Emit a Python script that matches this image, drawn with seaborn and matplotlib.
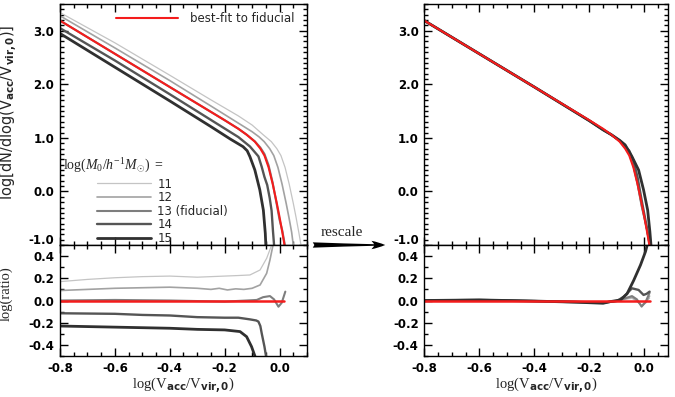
import matplotlib
matplotlib.use("Agg")
import matplotlib.pyplot as plt
import seaborn as sns
from matplotlib.ticker import MultipleLocator, FormatStrFormatter
from matplotlib.lines import Line2D
from matplotlib.patches import FancyArrowPatch
from matplotlib.transforms import ScaledTranslation

# ---------------- data ----------------
labels = ["11", "12", "13 (fiducial)", "14", "15"]

# left top: log dN/dlog(Vacc/Vvir,0) for each log M0
m11_x = [-0.8, -0.6, -0.4, -0.25, -0.15, -0.1, -0.06, -0.03, -0.01, 0.005, 0.02, 0.035, 0.05, 0.06, 0.07, 0.078, 0.082]
m11_y = [3.34, 2.775, 2.17, 1.71, 1.41, 1.24, 1.06, 0.93, 0.80, 0.67, 0.45, 0.14, -0.22, -0.48, -0.76, -1.0, -1.12]
m12_x = [-0.8, -0.6, -0.4, -0.25, -0.15, -0.1, -0.075, -0.056, -0.036, -0.021, -0.006, 0.009, 0.024, 0.034, 0.044, 0.050, 0.053]
m12_y = [3.28, 2.68, 2.07, 1.595, 1.275, 1.115, 1.02, 0.93, 0.80, 0.67, 0.45, 0.14, -0.22, -0.48, -0.76, -1.0, -1.12]
m13_x = [-0.8, -0.6, -0.4, -0.3, -0.2, -0.15, -0.12, -0.09, -0.07, -0.055, -0.04, -0.025, -0.01, 0.0, 0.01, 0.018, 0.021]
m13_y = [3.19, 2.57, 1.95, 1.64, 1.33, 1.17, 1.06, 0.935, 0.82, 0.70, 0.49, 0.16, -0.25, -0.53, -0.73, -0.96, -1.12]
m14_x = [-0.8, -0.6, -0.4, -0.25, -0.15, -0.108, -0.077, -0.065, -0.055, -0.045, -0.036, -0.029, -0.024, -0.020, -0.018]
m14_y = [3.05, 2.445, 1.815, 1.335, 1.015, 0.84, 0.655, 0.46, 0.27, 0.12, -0.12, -0.36, -0.74, -1.0, -1.12]
m15_x = [-0.8, -0.6, -0.4, -0.25, -0.18, -0.133, -0.118, -0.108, -0.09, -0.072, -0.059, -0.052, -0.050, -0.049]
m15_y = [2.95, 2.32, 1.69, 1.21, 0.98, 0.836, 0.76, 0.65, 0.40, 0.03, -0.35, -0.78, -1.0, -1.12]

# best-fit to fiducial (red)
fit_x = [-0.8, -0.6, -0.4, -0.3, -0.2, -0.15, -0.12, -0.09, -0.07, -0.055, -0.04, -0.025, -0.01, 0.0, 0.01, 0.018, 0.020]
fit_y = [3.19, 2.57, 1.95, 1.64, 1.33, 1.17, 1.06, 0.93, 0.80, 0.67, 0.45, 0.14, -0.22, -0.48, -0.76, -1.0, -1.12]

# left bottom: log(ratio) to fiducial
r11_x = [-0.8, -0.7, -0.6, -0.5, -0.4, -0.3, -0.2, -0.15, -0.108, -0.071, -0.047, -0.031, -0.02]
r11_y = [0.17, 0.19, 0.205, 0.215, 0.22, 0.21, 0.22, 0.225, 0.23, 0.275, 0.38, 0.485, 0.56]
r12_x = [-0.8, -0.7, -0.6, -0.5, -0.4, -0.3, -0.25, -0.22, -0.19, -0.16, -0.13, -0.1, -0.071, -0.047, -0.035, -0.025, -0.018]
r12_y = [0.09, 0.10, 0.11, 0.115, 0.12, 0.11, 0.10, 0.11, 0.095, 0.105, 0.10, 0.11, 0.14, 0.245, 0.365, 0.485, 0.56]
r13_x = [-0.8, -0.6, -0.4, -0.3, -0.2, -0.12, -0.083, -0.06, -0.035, -0.02, -0.004, 0.008, 0.021]
r13_y = [0.0, 0.005, 0.0, -0.005, -0.01, 0.0, 0.005, 0.03, 0.04, 0.01, -0.056, -0.02, 0.08]
r14_x = [-0.8, -0.6, -0.5, -0.4, -0.3, -0.2, -0.15, -0.108, -0.085, -0.077, -0.07, -0.065, -0.055, -0.049, -0.045]
r14_y = [-0.115, -0.12, -0.13, -0.135, -0.15, -0.155, -0.155, -0.17, -0.18, -0.19, -0.23, -0.296, -0.416, -0.506, -0.56]
r15_x = [-0.8, -0.7, -0.6, -0.5, -0.4, -0.3, -0.2, -0.144, -0.12, -0.102, -0.089, -0.085]
r15_y = [-0.23, -0.235, -0.24, -0.245, -0.25, -0.26, -0.265, -0.28, -0.326, -0.416, -0.506, -0.56]
fitr_x = [-0.8, 0.018]
fitr_y = [0.0, 0.0]

# right top: rescaled functions
s11_x = [-0.8, -0.6, -0.4, -0.2, -0.15, -0.12, -0.09, -0.07, -0.055, -0.04, -0.025, -0.01, 0.0, 0.01, 0.019, 0.021]
s11_y = [3.19, 2.57, 1.95, 1.32, 1.15, 1.055, 0.935, 0.815, 0.69, 0.47, 0.13, -0.27, -0.49, -0.75, -1.0, -1.12]
s12_x = [-0.8, -0.6, -0.4, -0.2, -0.15, -0.12, -0.09, -0.07, -0.055, -0.04, -0.025, -0.01, 0.0, 0.01, 0.019, 0.021]
s12_y = [3.19, 2.57, 1.95, 1.32, 1.15, 1.055, 0.94, 0.82, 0.70, 0.48, 0.14, -0.27, -0.50, -0.74, -1.0, -1.12]
s13_x = [-0.8, -0.6, -0.4, -0.2, -0.15, -0.12, -0.09, -0.07, -0.055, -0.04, -0.025, -0.01, 0.0, 0.01, 0.019, 0.021]
s13_y = [3.19, 2.57, 1.95, 1.32, 1.15, 1.058, 0.945, 0.825, 0.71, 0.49, 0.15, -0.27, -0.49, -0.72, -1.0, -1.12]
s14_x = [-0.8, -0.6, -0.4, -0.2, -0.15, -0.12, -0.09, -0.07, -0.055, -0.04, -0.025, -0.01, 0.0, 0.01, 0.02, 0.022]
s14_y = [3.19, 2.57, 1.95, 1.32, 1.15, 1.058, 0.95, 0.85, 0.76, 0.58, 0.27, -0.16, -0.43, -0.70, -1.0, -1.12]
s15_x = [-0.8, -0.6, -0.4, -0.2, -0.15, -0.12, -0.09, -0.07, -0.045, -0.021, -0.003, 0.012, 0.02, 0.024, 0.025]
s15_y = [3.19, 2.57, 1.95, 1.32, 1.15, 1.06, 0.955, 0.87, 0.65, 0.40, 0.03, -0.35, -0.75, -1.0, -1.12]

# right bottom: log(ratio) after rescaling
q11_x = [-0.8, -0.6, -0.4, -0.25, -0.15, -0.1, -0.07, -0.045, -0.027, -0.01, 0.005, 0.019]
q11_y = [-0.005, 0.0, -0.005, -0.01, -0.015, -0.005, 0.01, 0.02, -0.01, -0.045, -0.01, 0.02]
q12_x = [-0.8, -0.6, -0.4, -0.25, -0.15, -0.1, -0.07, -0.045, -0.027, -0.01, 0.005, 0.019]
q12_y = [0.0, 0.005, -0.005, -0.012, -0.02, -0.005, 0.015, 0.03, 0.0, -0.05, -0.02, 0.04]
q13_x = [-0.8, -0.6, -0.4, -0.25, -0.15, -0.1, -0.07, -0.045, -0.027, -0.01, 0.005, 0.019]
q13_y = [0.0, 0.003, -0.005, -0.01, -0.02, -0.002, 0.02, 0.04, 0.01, -0.055, -0.01, 0.07]
q14_x = [-0.8, -0.6, -0.4, -0.25, -0.15, -0.1, -0.075, -0.045, -0.021, -0.003, 0.008, 0.019]
q14_y = [0.0, 0.005, -0.005, -0.015, -0.02, -0.005, 0.034, 0.11, 0.095, 0.05, 0.06, 0.08]
q15_x = [-0.8, -0.6, -0.4, -0.25, -0.15, -0.124, -0.087, -0.063, -0.039, -0.014, 0.004, 0.012, 0.014]
q15_y = [0.0, 0.005, -0.005, -0.015, -0.025, -0.01, 0.005, 0.06, 0.18, 0.32, 0.44, 0.515, 0.56]
fitq_x = [-0.8, 0.019]
fitq_y = [0.0, 0.0]

# ---------------- styling ----------------
sns.set_style("ticks")
plt.rcParams["font.family"] = ["DejaVu Sans"]
plt.rcParams["mathtext.fontset"] = "custom"
plt.rcParams["mathtext.rm"] = "Liberation Serif"
plt.rcParams["mathtext.it"] = "Liberation Serif:italic"
plt.rcParams["mathtext.sf"] = "DejaVu Sans:bold"
plt.rcParams["axes.linewidth"] = 1.0

grey_cols = ["#c4c4c4", "#a2a2a2", "#7e7e7e", "#555555", "#303030"]
grey_lws = [0.9, 1.2, 1.5, 1.7, 2.0]
red = "#f41c1c"

W, H = 675, 397
fig = plt.figure(figsize=(W / 100, H / 100), dpi=100)

def px_axes(x0, x1, y0, y1):
    return fig.add_axes([x0 / W, 1 - y1 / H, (x1 - x0) / W, (y1 - y0) / H])

axLT = px_axes(60, 307, 4, 245)
axLB = px_axes(60, 307, 245, 356)
axRT = px_axes(424.3, 668.3, 4, 245)
axRB = px_axes(424.3, 668.3, 245, 356)

tick_fs = 8.5

def style(ax, top, xmax):
    ax.set_xlim(-0.8, xmax)
    ax.xaxis.set_major_locator(MultipleLocator(0.2))
    ax.xaxis.set_minor_locator(MultipleLocator(0.05))
    if top:
        ax.set_ylim(-1.0, 3.5)
        ax.yaxis.set_major_locator(MultipleLocator(1.0))
        ax.yaxis.set_minor_locator(MultipleLocator(0.1))
        ax.tick_params(labelbottom=False)
    else:
        ax.set_ylim(-0.5, 0.5)
        ax.yaxis.set_major_locator(MultipleLocator(0.2))
        ax.yaxis.set_minor_locator(MultipleLocator(0.1))
    ax.yaxis.set_major_formatter(FormatStrFormatter("%.1f"))
    ax.xaxis.set_major_formatter(FormatStrFormatter("%.1f"))
    ax.tick_params(which="both", direction="in", top=True, right=True,
                   width=1.0, labelsize=tick_fs, color="black", labelcolor="black")
    ax.tick_params(which="major", length=6, pad=4)
    ax.tick_params(which="minor", length=3)
    for lab in ax.get_xticklabels() + ax.get_yticklabels():
        lab.set_fontweight("bold")
    for s in ax.spines.values():
        s.set_visible(True)
        s.set_color("black")
        s.set_linewidth(1.0)
    ax.set_xlabel("")
    ax.set_ylabel("")

def draw(ax, xs, ys, col, lw):
    sns.lineplot(x=xs, y=ys, ax=ax, color=col, lw=lw, sort=False, estimator=None)

# left top
for (xs, ys), c, lw in zip([(m11_x, m11_y), (m12_x, m12_y), (m13_x, m13_y), (m14_x, m14_y), (m15_x, m15_y)], grey_cols, grey_lws):
    draw(axLT, xs, ys, c, lw)
draw(axLT, fit_x, fit_y, red, 1.5)

# left bottom
for (xs, ys), c, lw in zip([(r11_x, r11_y), (r12_x, r12_y), (r13_x, r13_y), (r14_x, r14_y), (r15_x, r15_y)], grey_cols, grey_lws):
    draw(axLB, xs, ys, c, lw)
draw(axLB, fitr_x, fitr_y, red, 1.8)

# right top
for (xs, ys), c, lw in zip([(s11_x, s11_y), (s12_x, s12_y), (s13_x, s13_y), (s14_x, s14_y), (s15_x, s15_y)], grey_cols, grey_lws):
    draw(axRT, xs, ys, c, lw)
draw(axRT, fit_x, fit_y, red, 1.5)

# right bottom
for (xs, ys), c, lw in zip([(q11_x, q11_y), (q12_x, q12_y), (q13_x, q13_y), (q14_x, q14_y), (q15_x, q15_y)], grey_cols, grey_lws):
    draw(axRB, xs, ys, c, lw)
draw(axRB, fitq_x, fitq_y, red, 1.8)

style(axLT, True, 0.1)
style(axLB, False, 0.1)
style(axRT, True, 0.087)
style(axRB, False, 0.087)

# labels
serif = "Liberation Serif"
axLT.set_ylabel(r"log[dN/dlog(V$_{\mathsf{acc}}$/V$_{\mathsf{vir,0}}$)]", fontsize=10.5)
axLT.yaxis.set_label_coords(-0.165, 0.55)
axLB.set_ylabel("log(ratio)", fontsize=10.5, family=serif)
axLB.yaxis.set_label_coords(-0.19, 0.56)
for ax in (axLB, axRB):
    ax.set_xlabel(r"log(V$_{\mathsf{acc}}$/V$_{\mathsf{vir,0}}$)", fontsize=10.5, family=serif, labelpad=1)

# legends
fit_leg = axLT.legend([Line2D([], [], color=red, lw=1.5)], ["best-fit to fiducial"],
                      loc="upper left", bbox_to_anchor=(0.225, 0.965), frameon=False,
                      handlelength=5.3, handletextpad=1.0, borderpad=0, borderaxespad=0,
                      fontsize=8.5)
axLT.add_artist(fit_leg)
handles = [Line2D([], [], color=c, lw=lw) for c, lw in zip(grey_cols, grey_lws)]
axLT.legend(handles, labels, loc="upper left", bbox_to_anchor=(0.15, 0.28), frameon=False,
            handlelength=4.6, handletextpad=0.5, labelspacing=0.05, borderpad=0,
            borderaxespad=0, fontsize=8.5)
axLT.text(0.012, 0.328, r"$\log(M_0/h^{-1}M_{\odot})\ =$", transform=axLT.transAxes,
          fontsize=10, va="center", ha="left")

# rescale arrow
fig.text(342 / W, 1 - 233 / H, "rescale", family=serif, fontsize=11, ha="center", va="center")
arr = FancyArrowPatch((310 / W, 1 - 245 / H), (388 / W, 1 - 245 / H), transform=fig.transFigure,
                      arrowstyle="fancy,head_length=0.9,head_width=0.55,tail_width=0.35",
                      mutation_scale=11, color="black", lw=0)
fig.patches.append(arr)

# lift the lowest label of the top panels (as in the reference)
fig.canvas.draw()
for ax in (axLT, axRT):
    for tick, loc in zip(ax.yaxis.get_major_ticks(), ax.yaxis.get_majorticklocs()):
        if abs(loc + 1.0) < 1e-6:
            tick.label1.set_transform(tick.label1.get_transform() +
                                      ScaledTranslation(0, 4 / 72, fig.dpi_scale_trans))

fig.savefig("out.png", dpi=100)
